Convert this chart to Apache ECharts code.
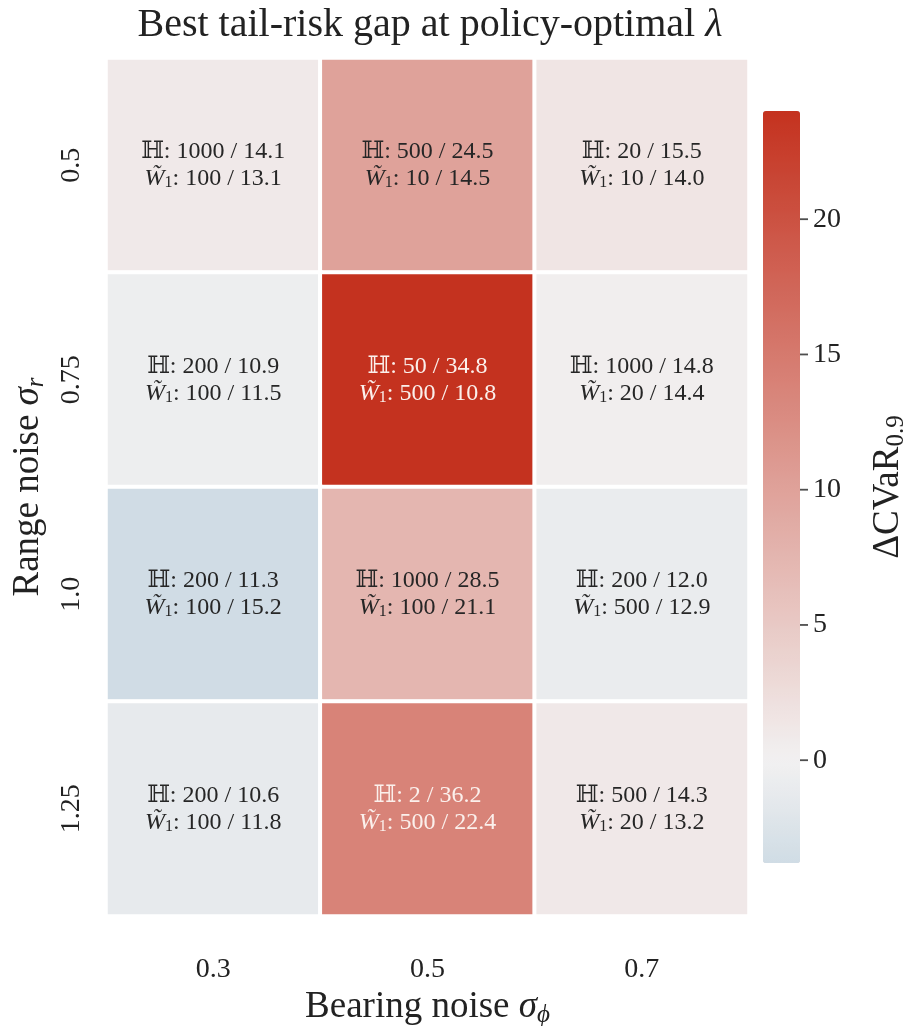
<!DOCTYPE html>
<html>
<head>
<meta charset="utf-8">
<script src="https://cdn.jsdelivr.net/npm/echarts@6/dist/echarts.min.js"></script>
<style>
  html, body { margin: 0; padding: 0; background: #fff; }
  #chart { width: 907px; height: 1026px; }
</style>
</head>
<body>
<div id="chart"></div>
<script>
// axis categories
var bearingNoise = ["0.3", "0.5", "0.7"];
var rangeNoise = ["0.5", "0.75", "1.0", "1.25"];

// best H setting / its CVaR, best W1 setting / its CVaR (rows = range noise)
var hBest = [[1000, 500, 20], [200, 50, 1000], [200, 1000, 200], [200, 2, 500]];
var hCvar = [["14.1", "24.5", "15.5"], ["10.9", "34.8", "14.8"], ["11.3", "28.5", "12.0"], ["10.6", "36.2", "14.3"]];
var wBest = [[100, 10, 10], [100, 500, 20], [100, 100, 500], [100, 500, 20]];
var wCvar = [["13.1", "14.5", "14.0"], ["11.5", "10.8", "14.4"], ["15.2", "21.1", "12.9"], ["11.8", "22.4", "13.2"]];

// cell colour value: delta CVaR_0.9
var deltaCvar = [[1.0, 10.0, 1.5], [-0.6, 24.0, 0.4], [-3.8, 7.4, -0.9], [-1.2, 13.8, 1.1]];

var cbTicks = [0, 5, 10, 15, 20];
var vMin = -3.8, vMax = 24.0;

var FONT = "'Liberation Serif', 'DejaVu Serif', serif";
var INK = "#222";

// diverging colormap centred at 0 (blue -> light -> red), sampled evenly for visualMap
function mix(a, b, t) {
  return [0, 1, 2].map(function (i) { return Math.round(a[i] + (b[i] - a[i]) * t); });
}
var cNeg = [208, 220, 229], cMid = [242, 241, 241], cPos = [196, 50, 31];
var cmap = [];
for (var k = 0; k <= 60; k++) {
  var v = vMin + (vMax - vMin) * k / 60;
  var c = v < 0 ? mix(cMid, cNeg, v / vMin) : mix(cMid, cPos, v / vMax);
  cmap.push("rgb(" + c.join(",") + ")");
}

var cells = [];
for (var r = 0; r < rangeNoise.length; r++) {
  for (var ci = 0; ci < bearingNoise.length; ci++) {
    cells.push([ci, r, deltaCvar[r][ci]]);
  }
}

function cellStyles(col) {
  return {
    n: { fontFamily: FONT, fontSize: 24, color: col, lineHeight: 27 },
    i: { fontFamily: FONT, fontSize: 24, fontStyle: "italic", color: col, lineHeight: 27 },
    s: { fontFamily: FONT, fontSize: 16, color: col, lineHeight: 27, padding: [9, 0, 0, 0] }
  };
}
var dark = cellStyles("#262626"), light = cellStyles("#fbf0ec");

var chart = echarts.init(document.getElementById("chart"));
var option = {
  backgroundColor: "#fff",
  animation: false,
  title: {
    text: "Best tail-risk gap at policy-optimal {i|λ}",
    left: 425,
    textAlign: "center",
    top: 0,
    textStyle: {
      fontFamily: FONT, fontSize: 40, fontWeight: "normal", color: INK,
      rich: { i: { fontFamily: FONT, fontSize: 40, fontStyle: "italic", color: INK } }
    }
  },
  grid: [
    { left: 106, right: 158, top: 58, bottom: 110, outerBoundsMode: "none" },
    { left: 763, width: 37, top: 111, height: 752, outerBoundsMode: "none" }
  ],
  xAxis: [
    {
      type: "category", data: bearingNoise, gridIndex: 0,
      axisLine: { show: false }, axisTick: { show: false }, splitArea: { show: false },
      axisLabel: { fontFamily: FONT, fontSize: 28, color: INK, margin: 40 },
      name: "Bearing noise {i|σ}{s|ϕ}",
      nameLocation: "middle", nameGap: 54,
      nameTextStyle: {
        fontFamily: FONT, fontSize: 37, color: INK,
        rich: {
          i: { fontFamily: FONT, fontSize: 37, fontStyle: "italic", color: INK },
          s: { fontFamily: FONT, fontSize: 25, fontStyle: "italic", color: INK, padding: [16, 0, 0, 0] }
        }
      }
    },
    { type: "value", gridIndex: 1, show: false, min: 0, max: 1 }
  ],
  yAxis: [
    {
      type: "category", data: rangeNoise, gridIndex: 0, inverse: true,
      axisLine: { show: false }, axisTick: { show: false }, splitArea: { show: false },
      axisLabel: { fontFamily: FONT, fontSize: 28, color: INK, rotate: 90, margin: 20 },
      name: "Range noise {i|σ}{s|r}",
      nameLocation: "middle", nameGap: 57, nameRotate: 90,
      nameTextStyle: {
        fontFamily: FONT, fontSize: 37, color: INK,
        rich: {
          i: { fontFamily: FONT, fontSize: 37, fontStyle: "italic", color: INK },
          s: { fontFamily: FONT, fontSize: 25, fontStyle: "italic", color: INK, padding: [16, 0, 0, 0] }
        }
      }
    },
    {
      type: "value", gridIndex: 1, position: "right", min: vMin, max: vMax,
      axisLine: { show: false, onZero: false },
      splitLine: { show: false },
      axisTick: { show: false },
      axisLabel: { fontFamily: FONT, fontSize: 28, color: INK, margin: 13, customValues: cbTicks },
      name: "ΔCVaR{s|0.9}",
      nameLocation: "middle", nameGap: 68, nameRotate: 90,
      nameTextStyle: {
        fontFamily: FONT, fontSize: 37, color: INK,
        rich: { s: { fontFamily: FONT, fontSize: 25, color: INK, padding: [16, 0, 0, 0] } }
      }
    }
  ],
  visualMap: {
    type: "continuous",
    seriesIndex: 0,
    min: vMin, max: vMax,
    calculable: false,
    hoverLink: false,
    left: 763, top: 111,
    itemWidth: 37, itemHeight: 752,
    padding: 0,
    inRange: { color: cmap }
  },
  series: [
    {
      type: "heatmap",
      xAxisIndex: 0, yAxisIndex: 0,
      data: cells,
      itemStyle: { borderColor: "#fff", borderWidth: 4 },
      label: {
        show: true,
        fontFamily: FONT,
        fontSize: 24,
        lineHeight: 27,
        formatter: function (p) {
          var x = p.data[0], y = p.data[1];
          var t = p.data[2] > 12 ? "l" : "d";
          return "{" + t + "n|ℍ: " + hBest[y][x] + " / " + hCvar[y][x] + "}\n" +
            "{" + t + "i|W̃}{" + t + "s|1}{" + t + "n|: " + wBest[y][x] + " / " + wCvar[y][x] + "}";
        },
        rich: {
          dn: dark.n, di: dark.i, ds: dark.s,
          ln: light.n, li: light.i, ls: light.s
        }
      },
      emphasis: { disabled: true }
    },
    {
      // colorbar tick marks, placed on the colorbar axis
      type: "scatter", xAxisIndex: 1, yAxisIndex: 1,
      data: cbTicks.map(function (t) { return [1, t]; }),
      symbol: "rect", symbolSize: [8, 1.8], symbolOffset: [4, 0],
      itemStyle: { color: INK },
      clip: false, silent: true, z: 5
    }
  ]
};
chart.setOption(option);
</script>
</body>
</html>
